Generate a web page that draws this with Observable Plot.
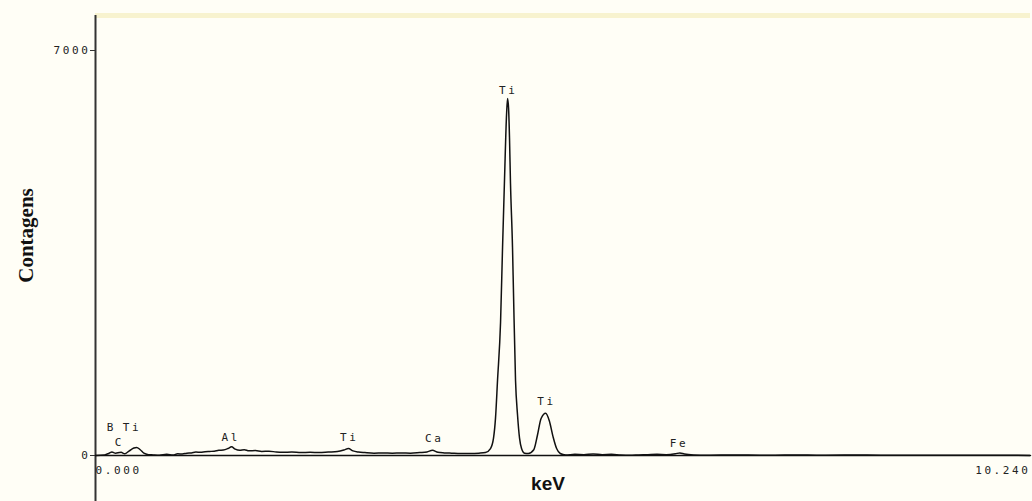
<!DOCTYPE html>
<html>
<head>
<meta charset="utf-8">
<script src="https://cdn.jsdelivr.net/npm/d3@7"></script>
<script src="https://cdn.jsdelivr.net/npm/@observablehq/plot@0.6"></script>
<style>
  html, body { margin: 0; padding: 0; background: #fffef6; }
  #chart svg { display: block; }
  g[font-family*="DejaVu Sans Mono"] text { letter-spacing: 2.6px; }
</style>
</head>
<body>
<div id="chart"></div>
<script>
// Spectrum energies (keV) and counts
const energy = [
  0.00, 0.10, 0.15, 0.18, 0.22, 0.26, 0.28, 0.32, 0.37, 0.42, 0.45, 0.49, 0.53, 0.58, 0.63, 0.70,
  0.78, 0.85, 0.90, 0.95, 1.00, 1.05, 1.10, 1.15, 1.20, 1.25, 1.30, 1.35, 1.40, 1.45, 1.49, 1.53,
  1.58, 1.63, 1.68, 1.75, 1.82, 1.90, 1.98, 2.05, 2.15, 2.25, 2.35, 2.45, 2.55, 2.65, 2.72, 2.77,
  2.82, 2.88, 2.95, 3.05, 3.15, 3.25, 3.35, 3.45, 3.55, 3.63, 3.69, 3.75, 3.82, 3.90, 4.00, 4.10,
  4.20, 4.27, 4.326, 4.359, 4.381, 4.403, 4.436, 4.458, 4.480, 4.502, 4.513, 4.524, 4.534, 4.545,
  4.567, 4.578, 4.600, 4.622, 4.644, 4.666, 4.699, 4.74,
  4.80, 4.84, 4.88, 4.93, 4.97, 5.01, 5.05, 5.09, 5.15, 5.25, 5.35, 5.45, 5.55, 5.65, 5.75, 5.85,
  5.95, 6.05, 6.15, 6.25, 6.35, 6.40, 6.45, 6.55, 6.70, 7.00, 7.30, 7.60, 8.00, 8.40, 8.80, 9.20,
  9.60, 10.00, 10.24
];
const counts = [
  0, 10, 40, 60, 40, 50, 55, 30, 80, 130, 140, 100, 40, 15, 10, 5,
  20, 10, 30, 25, 40, 45, 60, 55, 65, 70, 75, 90, 95, 120, 150, 110,
  90, 100, 80, 85, 70, 75, 60, 55, 60, 50, 55, 50, 60, 70, 95, 120,
  80, 60, 50, 40, 45, 40, 45, 40, 50, 60, 90, 55, 45, 40, 35, 35,
  40, 50, 120, 300, 650, 1300, 2300, 3600, 4800, 5900, 6170, 6000, 5500, 4700,
  3600, 2800, 1300, 700, 300, 120, 40, 35,
  100, 350, 640, 730, 600, 330, 120, 35, 10, 20, 15, 25, 15, 20, 10, 5,
  10, 15, 20, 15, 30, 45, 25, 10, 5, 10, 5, 8, 5, 8, 4, 6,
  3, 4, 2
];

// Peak labels
const peakNames = ["B", "Ti", "C", "Al", "Ti", "Ca", "Ti", "Ti", "Fe"];
const peakEnergy = [0.175, 0.40, 0.26, 1.48, 2.78, 3.71, 4.52, 4.94, 6.39];
const peakLabelY = [484, 484, 225, 311, 311, 294, 6307, 933, 207];

// Axis ticks and titles
const yTicks = [0, 7000];
const xTickValues = [0, 10.24];
const xTickLabels = ["0.000", "10.240"];
const xDomain = [0, 10.24];
const yDomain = [0, 7605];
const xTitle = "keV";
const yTitle = "Contagens";

const spectrum = energy.map((e, i) => ({energy: e, counts: counts[i]}));
const peaks = peakNames.map((n, i) => ({name: n, energy: peakEnergy[i], y: peakLabelY[i]}));
const mono = "'DejaVu Sans Mono', monospace";

const chart = Plot.plot({
  width: 1032,
  height: 501,
  marginLeft: 95,
  marginRight: 2,
  marginTop: 15,
  marginBottom: 46,
  style: {background: "#fffef6", color: "#222", overflow: "visible"},
  x: {type: "linear", domain: xDomain, axis: null},
  y: {type: "linear", domain: yDomain, axis: null},
  marks: [
    // faint yellow band at top
    Plot.ruleY([yDomain[1]], {stroke: "#f8f3cf", strokeWidth: 5, clip: false}),
    // y axis line
    Plot.ruleX([0], {y1: -800, y2: yDomain[1], stroke: "#333", strokeWidth: 2, clip: false}),
    // baseline
    Plot.ruleY([0], {stroke: "#111", strokeWidth: 1.6}),
    // y ticks and labels
    Plot.axisY(yTicks, {tickSize: 5, tickPadding: 0, fontSize: 11, fontFamily: mono, stroke: "#333", label: null, tickFormat: d => String(d)}),
    // x tick labels
    Plot.text([xTickValues[0]], {x: d => d, y: 0, text: () => xTickLabels[0], textAnchor: "start", dy: 15, fontSize: 11, fontFamily: mono, fill: "#222"}),
    Plot.text([xTickValues[1]], {x: d => d, y: 0, text: () => xTickLabels[1], textAnchor: "end", dy: 15, dx: 0, fontSize: 11, fontFamily: mono, fill: "#222"}),
    // spectrum
    Plot.line(spectrum, {x: "energy", y: "counts", stroke: "#111", strokeWidth: 1.5, curve: "monotone-x"}),
    // peak labels
    Plot.text(peaks, {x: "energy", y: "y", text: "name", fontSize: 11, fontFamily: mono, fill: "#222"}),
    // axis titles
    Plot.text([yTitle], {frameAnchor: "left", textAnchor: "middle", dx: -69, rotate: -90, fontSize: 21, fontWeight: "bold", fontFamily: "'Liberation Serif', serif", fill: "#111"}),
    Plot.text([xTitle], {frameAnchor: "bottom", dy: 34, dx: -15, fontSize: 19, fontWeight: "bold", fontFamily: "'Liberation Sans', sans-serif", fill: "#111"})
  ]
});
document.getElementById("chart").appendChild(chart);
</script>
</body>
</html>
